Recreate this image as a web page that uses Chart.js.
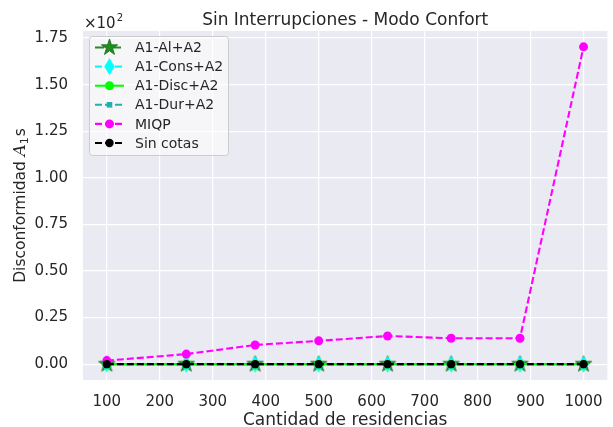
<!DOCTYPE html>
<html>
<head>
<meta charset="utf-8">
<script src="https://cdn.jsdelivr.net/npm/chart.js@4.4.1/dist/chart.umd.min.js"></script>
<style>
  html, body { margin: 0; padding: 0; background: #fff; overflow: hidden; }
  #chart { display: block; }
</style>
</head>
<body>
<canvas id="chart" width="616" height="427"></canvas>
<script>
"use strict";

// ---------- data ----------
const cantidades = [100, 250, 380, 500, 630, 750, 880, 1000];
const alA2 = [0, 0, 0, 0, 0, 0, 0, 0];
const consA2 = [0, 0, 0, 0, 0, 0, 0, 0];
const discA2 = [0, 0, 0, 0, 0, 0, 0, 0];
const durA2 = [0, 0, 0, 0, 0, 0, 0, 0];
const miqp = [1.9, 5.4, 10.3, 12.5, 15.1, 13.9, 13.9, 170.3];
const sinCotas = [0, 0, 0, 0, 0, 0, 0, 0];

const xTicks = [100, 200, 300, 400, 500, 600, 700, 800, 900, 1000];
const yTicks = [0, 25, 50, 75, 100, 125, 150, 175];

const TEXT = "#262626";
const FONT = "DejaVu Sans";

// ---------- marker images ----------
function starMarker(r, fill, edge) {
  const c = document.createElement("canvas");
  const s = Math.ceil(r * 2 + 4);
  c.width = s; c.height = s;
  const g = c.getContext("2d");
  g.beginPath();
  for (let i = 0; i < 10; i++) {
    const rad = i % 2 === 0 ? r : r * 0.382;
    const a = -Math.PI / 2 + i * Math.PI / 5;
    const px = s / 2 + rad * Math.cos(a), py = s / 2 + rad * Math.sin(a);
    i === 0 ? g.moveTo(px, py) : g.lineTo(px, py);
  }
  g.closePath();
  g.fillStyle = fill; g.fill();
  g.strokeStyle = edge; g.lineWidth = 1; g.stroke();
  return c;
}

function thinDiamond(h, w, fill) {
  const c = document.createElement("canvas");
  c.width = Math.ceil(w + 2); c.height = Math.ceil(h + 2);
  const g = c.getContext("2d");
  const cx = c.width / 2, cy = c.height / 2;
  g.beginPath();
  g.moveTo(cx, cy - h / 2); g.lineTo(cx + w / 2, cy);
  g.lineTo(cx, cy + h / 2); g.lineTo(cx - w / 2, cy);
  g.closePath();
  g.fillStyle = fill; g.fill();
  return c;
}

const starImg = starMarker(8.5, "#228b22", "#1f7a1f");
const diamondImg = thinDiamond(17, 10.5, "#00ffff");

function pts(ys) {
  return cantidades.map((x, i) => ({ x: x, y: ys[i] }));
}

const series = [
  { label: "A1-Al+A2", data: pts(alA2), color: "#228b22", dash: [9, 3, 2, 3], marker: starImg, order: 5 },
  { label: "A1-Cons+A2", data: pts(consA2), color: "#00ffff", dash: [7, 3], marker: diamondImg, order: 4 },
  { label: "A1-Disc+A2", data: pts(discA2), color: "#00ff00", dash: [], marker: "circle", radius: 4.5, order: 3 },
  { label: "A1-Dur+A2", data: pts(durA2), color: "#20b2aa", dash: [7, 3], marker: "rect", radius: 2.8, order: 2 },
  { label: "MIQP", data: pts(miqp), color: "#ff00ff", dash: [7, 3], marker: "circle", radius: 4.5, order: 1 },
  { label: "Sin cotas", data: pts(sinCotas), color: "#000000", dash: [7, 3], marker: "circle", radius: 4.2, order: 0 },
];

// ---------- extra texts + legend ----------
const decorPlugin = {
  id: "decor",
  afterDraw(chart) {
    const g = chart.ctx;
    const area = chart.chartArea;
    const midX = (area.left + area.right) / 2;
    g.save();
    g.fillStyle = TEXT;

    // title
    g.font = "17px '" + FONT + "'";
    g.textAlign = "center";
    g.textBaseline = "alphabetic";
    g.fillText("Sin Interrupciones - Modo Confort", midX, 25);

    // x label
    g.fillText("Cantidad de residencias", midX, 425);

    // offset ×10²
    g.textAlign = "left";
    g.font = "15px '" + FONT + "'";
    g.fillText("\u00d710", 84, 28);
    const w = g.measureText("\u00d710").width;
    g.font = "10px '" + FONT + "'";
    g.fillText("2", 84 + w + 1, 21);

    // y label
    g.save();
    g.translate(25, (area.top + area.bottom) / 2);
    g.rotate(-Math.PI / 2);
    const part1 = "Disconformidad ";
    g.font = "15.5px '" + FONT + "'";
    const w1 = g.measureText(part1).width;
    g.font = "italic 16.5px 'DejaVu Serif'";
    const wA = g.measureText("A").width;
    g.font = "11px '" + FONT + "'";
    const w1s = g.measureText("1").width;
    g.font = "15.5px '" + FONT + "'";
    const ws = g.measureText("s").width;
    let x = -(w1 + wA + w1s + ws + 1) / 2;
    g.textAlign = "left";
    g.fillText(part1, x, 0); x += w1;
    g.font = "italic 16.5px 'DejaVu Serif'";
    g.fillText("A", x, 0); x += wA;
    g.font = "11px '" + FONT + "'";
    g.fillText("1", x, 3); x += w1s + 1;
    g.font = "15.5px '" + FONT + "'";
    g.fillText("s", x, 0);
    g.restore();

    // legend box
    const bx = 89.5, by = 36.5, bw = 139, bh = 119;
    g.beginPath();
    g.roundRect(bx, by, bw, bh, 3);
    g.fillStyle = "rgba(255,255,255,0.55)";
    g.fill();
    g.strokeStyle = "#cccccc";
    g.lineWidth = 1;
    g.stroke();

    series.forEach((s, i) => {
      const ry = 47.5 + i * 19.1;
      g.beginPath();
      g.setLineDash(s.dash);
      g.strokeStyle = s.color;
      g.lineWidth = 2.1;
      g.moveTo(95, ry); g.lineTo(124, ry);
      g.stroke();
      g.setLineDash([]);
      const mx = 109.5;
      if (typeof s.marker !== "string") {
        g.drawImage(s.marker, mx - s.marker.width / 2, ry - s.marker.height / 2);
      } else if (s.marker === "circle") {
        g.beginPath();
        g.arc(mx, ry, s.radius, 0, Math.PI * 2);
        g.fillStyle = s.color; g.fill();
      } else {
        g.fillStyle = s.color;
        g.fillRect(mx - s.radius, ry - s.radius, s.radius * 2, s.radius * 2);
      }
      g.fillStyle = TEXT;
      g.font = "14px '" + FONT + "'";
      g.textBaseline = "middle";
      g.fillText(s.label, 135, ry + 1);
    });
    g.restore();
  },
};

const bgPlugin = {
  id: "plotBg",
  beforeDraw(chart) {
    const a = chart.chartArea;
    const g = chart.ctx;
    g.save();
    g.fillStyle = "#ffffff";
    g.fillRect(0, 0, chart.width, chart.height);
    g.fillStyle = "#eaeaf2";
    g.fillRect(a.left, a.top, a.right - a.left, a.bottom - a.top);
    g.restore();
  },
};

new Chart(document.getElementById("chart"), {
  type: "line",
  data: {
    datasets: series.map((s) => ({
      label: s.label,
      data: s.data,
      order: s.order,
      borderColor: s.color,
      backgroundColor: s.color,
      borderDash: s.dash,
      borderWidth: 2.1,
      pointStyle: s.marker,
      pointRadius: s.radius || 8,
      pointBorderWidth: 0,
      pointBackgroundColor: s.color,
      fill: false,
      tension: 0,
    })),
  },
  options: {
    responsive: false,
    animation: false,
    devicePixelRatio: 1,
    layout: { padding: { top: 31, right: 1, left: 0, bottom: 0 } },
    plugins: { legend: { display: false }, title: { display: false }, tooltip: { enabled: false } },
    scales: {
      x: {
        type: "linear",
        min: 55,
        max: 1045,
        afterBuildTicks: (scale) => { scale.ticks = xTicks.map((v) => ({ value: v })); },
        afterFit: (scale) => { scale.height = 47; },
        grid: { color: "#ffffff", lineWidth: 1.2, drawTicks: false },
        border: { display: false },
        ticks: { color: TEXT, font: { family: FONT, size: 15 }, padding: 13, maxRotation: 0, autoSkip: false, callback: (v) => String(v) },
      },
      y: {
        type: "linear",
        min: -8.5,
        max: 178.8,
        afterBuildTicks: (scale) => { scale.ticks = yTicks.map((v) => ({ value: v })); },
        afterFit: (scale) => { scale.width = 83; },
        grid: { color: "#ffffff", lineWidth: 1.2, drawTicks: false },
        border: { display: false },
        ticks: { color: TEXT, font: { family: FONT, size: 15 }, padding: 15, callback: (v) => (v / 100).toFixed(2) },
      },
    },
  },
  plugins: [bgPlugin, decorPlugin],
});
</script>
</body>
</html>
